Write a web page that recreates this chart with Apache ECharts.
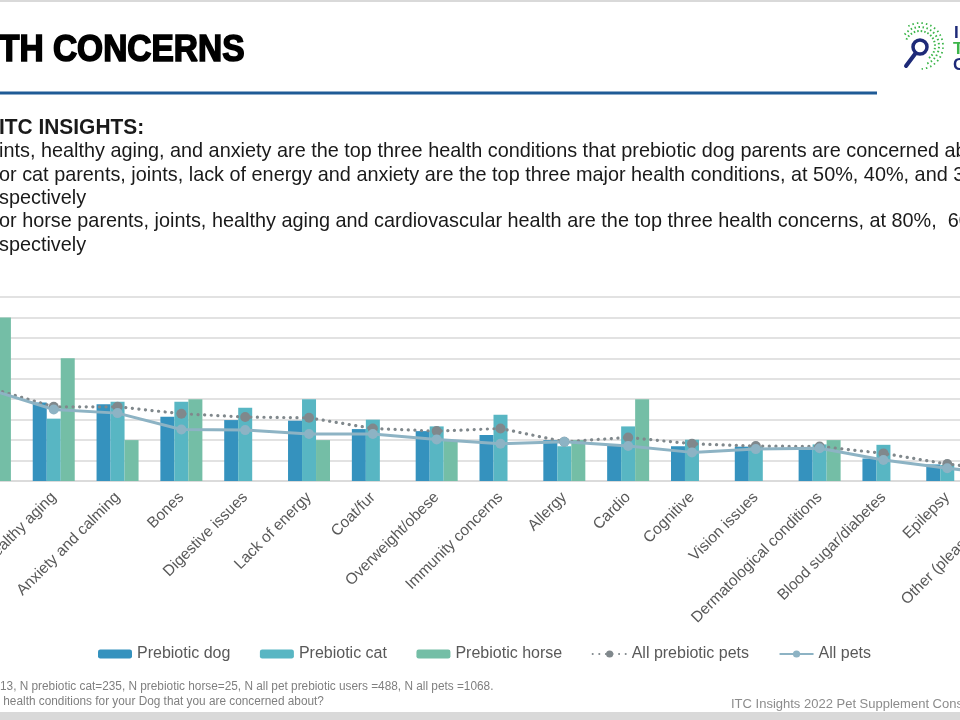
<!DOCTYPE html>
<html>
<head>
<meta charset="utf-8">
<script src="https://cdn.jsdelivr.net/npm/echarts@6/dist/echarts.min.js"></script>
<style>
html,body{margin:0;padding:0;background:#fff;}
#chart{width:960px;height:720px;}
</style>
</head>
<body>
<div id="chart"></div>
<script>
var categories = ['Joints','Healthy aging','Anxiety and calming','Bones','Digestive issues','Lack of energy','Coat/fur','Overweight/obese','Immunity concerns','Allergy','Cardio','Cognitive','Vision issues','Dermatological conditions','Blood sugar/diabetes','Epilepsy','Other (please specify)'];
var prebioticDog = [48, 38.4, 37.5, 31.4, 29.8, 29.5, 25.4, 24.4, 22.5, 20, 17.6, 17, 16.8, 15.6, 11, 8.1, 4];
var prebioticCat = [50, 30.5, 38.8, 38.8, 35.8, 40, 30, 26.7, 32.4, 17, 26.7, 20.2, 16.8, 17.9, 17.7, 7.8, 5];
var prebioticHorse = [80, 60, 20, 40, null, 20, null, 20, null, 20, 40, null, null, 20, null, null, null];
var allPrebioticPets = [45.5, 36.3, 36.3, 32.9, 31.3, 30.9, 25.7, 24.4, 25.7, 19.2, 21.3, 18.2, 17.1, 16.9, 13.5, 8.3, 5];
var allPets = [44.7, 35, 33.2, 25.2, 24.9, 23, 23, 20.3, 18.2, 19.2, 17.1, 14, 15.6, 16, 10.3, 6.2, 3];
var yTicks = {min: 0, max: 90, interval: 10};

var titleText = 'TH CONCERNS';
var insightLines = [
  'ints, healthy aging, and anxiety are the top three health conditions that prebiotic dog parents are concerned ab',
  'or cat parents, joints, lack of energy and anxiety are the top three major health conditions, at 50%, 40%, and 39',
  'spectively',
  'or horse parents, joints, healthy aging and cardiovascular health are the top three health concerns, at 80%,  60',
  'spectively'
];
var footLines = [
  '13, N prebiotic cat=235, N prebiotic horse=25, N all pet prebiotic users =488, N all pets =1068.',
  ' health conditions for your Dog that you are concerned about?'
];
var sourceText = 'ITC Insights 2022 Pet Supplement Cons';

var chart = echarts.init(document.getElementById('chart'));
var FONT = "'Liberation Sans', Arial, sans-serif";

var graphics = [
  {type:'rect', shape:{x:0,y:0,width:960,height:2}, style:{fill:'#d9d9d9'}, silent:true},
  {type:'rect', shape:{x:0,y:712,width:960,height:8}, style:{fill:'#d9d9d9'}, silent:true},
  {type:'rect', shape:{x:0,y:91.5,width:877,height:3}, style:{fill:'#1f5b96'}, silent:true},
  {type:'text', x:-1, y:51, scaleX:0.93, style:{text:titleText, font:'bold 36px '+FONT, fill:'#000', stroke:'#000', lineWidth:1.6, verticalAlign:'middle'}},
  {type:'text', x:-1, y:128, scaleX:0.95, style:{text:'ITC INSIGHTS:', font:'bold 22px '+FONT, fill:'#1a1a1a', verticalAlign:'middle'}},
  // logo
  {type:'arc', shape:{cx:920,cy:46,r:15,startAngle:-2.7,endAngle:1.0}, style:{stroke:'#3cb54a',lineWidth:2,lineDash:[1.5,2],fill:null}},
  {type:'arc', shape:{cx:920,cy:46,r:19,startAngle:-2.5,endAngle:1.3}, style:{stroke:'#3cb54a',lineWidth:2,lineDash:[1.5,2.5],fill:null}},
  {type:'arc', shape:{cx:920,cy:46,r:23,startAngle:-2.1,endAngle:1.5}, style:{stroke:'#3cb54a',lineWidth:1.8,lineDash:[1.5,3],fill:null}},
  {type:'circle', shape:{cx:920,cy:47,r:7}, style:{stroke:'#1e2a78',lineWidth:3.5,fill:'#fff'}},
  {type:'line', shape:{x1:915,y1:54,x2:906,y2:66}, style:{stroke:'#1e2a78',lineWidth:4,lineCap:'round'}},
  {type:'text', x:954, y:33, style:{text:'I', font:'bold 17px '+FONT, fill:'#1e2a78', verticalAlign:'middle'}},
  {type:'text', x:953, y:49, style:{text:'T', font:'bold 17px '+FONT, fill:'#3cb54a', verticalAlign:'middle'}},
  {type:'text', x:953, y:65, style:{text:'C', font:'bold 17px '+FONT, fill:'#1e2a78', verticalAlign:'middle'}},
  {type:'text', x:731, y:704, style:{text:sourceText, font:'13px '+FONT, fill:'#8c8c8c', verticalAlign:'middle'}}
];
var lineYs = [151, 175, 198, 221, 245];
insightLines.forEach(function(t,i){
  graphics.push({type:'text', x:-1, y:lineYs[i], scaleX:0.945, style:{text:t, font:'21px '+FONT, fill:'#1a1a1a', verticalAlign:'middle'}});
});
var footYs = [687, 702];
footLines.forEach(function(t,i){
  graphics.push({type:'text', x:0, y:footYs[i], scaleX:0.985, style:{text:t, font:'12px '+FONT, fill:'#7f7f7f', verticalAlign:'middle'}});
});

var barCommon = {type:'bar', barWidth:14, barGap:'0%'};
var option = {
  animation:false,
  textStyle:{fontFamily:FONT},
  graphic:graphics,
  legend:{
    left:93, top:641, itemWidth:34, itemHeight:9, itemGap:29.5,
    textStyle:{fontSize:16, color:'#595959', fontFamily:FONT},
    data:['Prebiotic dog','Prebiotic cat','Prebiotic horse','All prebiotic pets','All pets']
  },
  grid:{left:-42, right:-83, top:297, bottom:239, containLabel:false, outerBoundsMode:'none'},
  xAxis:{
    type:'category', data:categories,
    axisLine:{lineStyle:{color:'#d9d9d9', width:1.5}},
    axisTick:{show:false},
    axisLabel:{interval:0, rotate:45, fontSize:15.5, color:'#595959', margin:14}
  },
  yAxis:{
    type:'value', min:yTicks.min, max:yTicks.max, interval:yTicks.interval,
    axisLabel:{show:false}, axisLine:{show:false}, axisTick:{show:false},
    splitLine:{lineStyle:{color:'#d9d9d9', width:1.5}}
  },
  series:[
    Object.assign({name:'Prebiotic dog', data:prebioticDog, itemStyle:{color:'#3592be'}}, barCommon),
    Object.assign({name:'Prebiotic cat', data:prebioticCat, itemStyle:{color:'#58b6c3'}}, barCommon),
    Object.assign({name:'Prebiotic horse', data:prebioticHorse, itemStyle:{color:'#74bea6'}}, barCommon),
    {name:'All prebiotic pets', type:'line', data:allPrebioticPets, symbol:'circle', symbolSize:10,
     lineStyle:{color:'#80888c', width:3.2, type:[0.1,6.5], cap:'round'}, itemStyle:{color:'#80888c'}},
    {name:'All pets', type:'line', data:allPets, symbol:'circle', symbolSize:10,
     lineStyle:{color:'#8db3c4', width:3}, itemStyle:{color:'#8db3c4'}}
  ]
};
chart.setOption(option);
</script>
</body>
</html>
